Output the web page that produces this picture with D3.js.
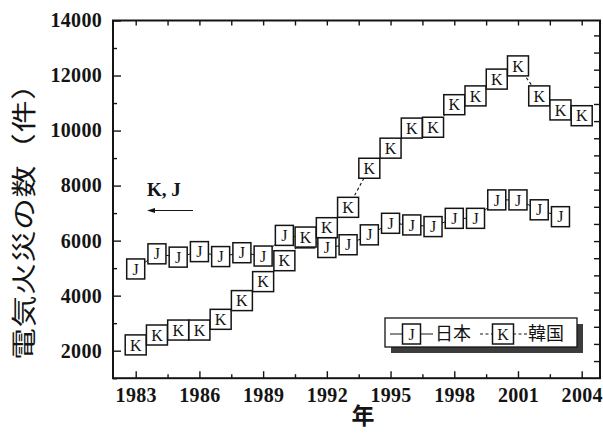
<!DOCTYPE html>
<html>
<head>
<meta charset="utf-8">
<script src="https://cdn.jsdelivr.net/npm/d3@7"></script>
<style>
  html, body { margin: 0; padding: 0; background: #fff; }
  svg { display: block; }
</style>
</head>
<body>
<script>
// Electrical fires per year, Japan (J) and Korea (K)
const years = [1983, 1984, 1985, 1986, 1987, 1988, 1989, 1990, 1991, 1992, 1993,
               1994, 1995, 1996, 1997, 1998, 1999, 2000, 2001, 2002, 2003, 2004];
const japanYears = years.slice(0, 21);
const japanFires = [4970, 5520, 5400, 5600, 5420, 5560, 5440, 6190, 6100, 5750, 5850,
                    6210, 6630, 6570, 6510, 6810, 6810, 7480, 7480, 7120, 6870];
const koreaFires = [2210, 2570, 2750, 2750, 3140, 3820, 4510, 5270, 6130, 6470, 7210,
                    8630, 9360, 10090, 10120, 10940, 11260, 11870, 12350, 11260, 10750, 10540];
const yTickValues = [2000, 4000, 6000, 8000, 10000, 12000, 14000];
const xTickValues = [1983, 1986, 1989, 1992, 1995, 1998, 2001, 2004];
const seriesNames = ["日本", "韓国"];
const seriesCodes = ["J", "K"];
const yTitle = "電気火災の数（件）";
const xTitle = "年";
const noteText = "K, J";

const W = 603, H = 443;
const frame = { left: 113, right: 600, top: 20.5, bottom: 378.2 };
const ink = "#141414";
const serif = "'Liberation Serif', 'DejaVu Serif', serif";
const cjk = "'Noto Sans CJK JP', 'Noto Sans CJK SC', sans-serif";

const svg = d3.select("body").append("svg").attr("width", W).attr("height", H);

const x = d3.scaleLinear().domain([1983, 2004]).range([135.7, 581.7]);
const y = d3.scaleLinear().domain([1000, 14000]).range([frame.bottom, frame.top]);
// unlabeled right-hand scale with its own evenly spaced ticks
const yRight = d3.scaleLinear().domain([0, 20.87]).range([frame.bottom, frame.top]);

const minorX = d3.range(1984.5, 2004, 3);
const minorY = d3.range(1000, 14000, 2000);

function styleAxis(g) {
  g.select(".domain").remove();
  g.selectAll(".tick line").attr("stroke", ink).attr("stroke-width", 1.4);
}

// left axis: ticks point into the plot, labels outside
svg.append("g").attr("transform", `translate(${frame.left},0)`)
  .call(d3.axisLeft(y).tickValues(yTickValues).tickSize(-8).tickPadding(11).tickFormat(d3.format("d")))
  .call(styleAxis)
  .call(g => g.selectAll("text").attr("font-family", serif).attr("font-weight", "bold")
    .attr("font-size", 20).attr("fill", ink).attr("letter-spacing", 0.3));
svg.append("g").attr("transform", `translate(${frame.left},0)`)
  .call(d3.axisLeft(y).tickValues(minorY).tickSize(-4).tickFormat(""))
  .call(styleAxis);

// bottom axis
svg.append("g").attr("transform", `translate(0,${frame.bottom})`)
  .call(d3.axisBottom(x).tickValues(xTickValues).tickSize(-7).tickPadding(10).tickFormat(d3.format("d")))
  .call(styleAxis)
  .call(g => g.selectAll("text").attr("font-family", serif).attr("font-weight", "bold")
    .attr("font-size", 20).attr("fill", ink).attr("letter-spacing", 0.3));
svg.append("g").attr("transform", `translate(0,${frame.bottom})`)
  .call(d3.axisBottom(x).tickValues(minorX).tickSize(-4).tickFormat(""))
  .call(styleAxis);

// top axis (ticks only)
svg.append("g").attr("transform", `translate(0,${frame.top})`)
  .call(d3.axisTop(x).tickValues(xTickValues.concat(minorX)).tickSize(-5).tickFormat(""))
  .call(styleAxis);

// right axis (ticks only)
svg.append("g").attr("transform", `translate(${frame.right},0)`)
  .call(d3.axisRight(yRight).tickValues(d3.range(1, 21)).tickSize(-6).tickFormat(""))
  .call(styleAxis);

// plot frame
svg.append("rect")
  .attr("x", frame.left).attr("y", frame.top)
  .attr("width", frame.right - frame.left).attr("height", frame.bottom - frame.top)
  .attr("fill", "none").attr("stroke", ink).attr("stroke-width", 2);

// series data
const japan = japanYears.map((yr, i) => ({ year: yr, value: japanFires[i] }));
const korea = years.map((yr, i) => ({ year: yr, value: koreaFires[i] }));

const line = d3.line().x(d => x(d.year)).y(d => y(d.value));

svg.append("path").datum(japan).attr("d", line)
  .attr("fill", "none").attr("stroke", ink).attr("stroke-width", 1);
svg.append("path").datum(korea).attr("d", line)
  .attr("fill", "none").attr("stroke", ink).attr("stroke-width", 1.1)
  .attr("stroke-dasharray", "3,2.5");

const boxW = { J: 18, K: 21 };
const boxH = 20;

function drawMarkers(data, code) {
  const g = svg.append("g").selectAll("g").data(data).join("g")
    .attr("transform", d => `translate(${x(d.year)},${y(d.value)})`);
  g.append("rect")
    .attr("x", -boxW[code] / 2).attr("y", -boxH / 2)
    .attr("width", boxW[code]).attr("height", boxH)
    .attr("fill", "#fff").attr("stroke", ink).attr("stroke-width", 1.5);
  g.append("text").text(code)
    .attr("text-anchor", "middle").attr("dy", "0.35em")
    .attr("font-family", serif).attr("font-size", 16).attr("fill", ink);
}
drawMarkers(japan, "J");
drawMarkers(korea, "K");

// note with leftward arrow
svg.append("text").attr("x", 147).attr("y", 196).text(noteText)
  .attr("font-family", serif).attr("font-weight", "bold").attr("font-size", 19).attr("fill", ink);
svg.append("line").attr("x1", 152).attr("x2", 193).attr("y1", 210.5).attr("y2", 210.5)
  .attr("stroke", ink).attr("stroke-width", 1);
svg.append("path").attr("d", "M147,210.5 L155,208 L155,213 Z").attr("fill", ink);

// legend with drop shadow
const legend = svg.append("g");
legend.append("rect").attr("x", 391).attr("y", 324).attr("width", 192).attr("height", 29)
  .attr("fill", "#3c3c3c");
legend.append("rect").attr("x", 385).attr("y", 318).attr("width", 192).attr("height", 29)
  .attr("fill", "#fff").attr("stroke", ink).attr("stroke-width", 1.3);

const legendItems = [
  { code: seriesCodes[0], name: seriesNames[0], x0: 390, cx: 411.5, x1: 433, tx: 435, dash: null },
  { code: seriesCodes[1], name: seriesNames[1], x0: 480, cx: 503, x1: 527, tx: 528, dash: "3,2.5" }
];
legendItems.forEach(it => {
  legend.append("line").attr("x1", it.x0).attr("x2", it.x1).attr("y1", 334).attr("y2", 334)
    .attr("stroke", ink).attr("stroke-width", 1).attr("stroke-dasharray", it.dash);
  legend.append("rect").attr("x", it.cx - boxW[it.code] / 2).attr("y", 324)
    .attr("width", boxW[it.code]).attr("height", boxH)
    .attr("fill", "#fff").attr("stroke", ink).attr("stroke-width", 1.5);
  legend.append("text").attr("x", it.cx).attr("y", 334).attr("dy", "0.35em")
    .attr("text-anchor", "middle").text(it.code)
    .attr("font-family", serif).attr("font-size", 16).attr("fill", ink);
  legend.append("text").attr("x", it.tx).attr("y", 334).attr("dy", "0.36em").text(it.name)
    .attr("font-family", cjk).attr("font-size", 18).attr("fill", ink);
});

// axis titles: the vertical title uses a narrowed CJK face
svg.append("text")
  .attr("transform", "translate(22,214) rotate(-90) scale(1,0.78)")
  .attr("text-anchor", "middle").attr("dominant-baseline", "central").text(yTitle)
  .attr("font-family", cjk).attr("font-size", 32).attr("fill", ink)
  .attr("textLength", 292).attr("lengthAdjust", "spacing");
svg.append("text").attr("x", 363).attr("y", 424).attr("text-anchor", "middle").text(xTitle)
  .attr("font-family", cjk).attr("font-weight", "bold").attr("font-size", 23).attr("fill", ink);
</script>
</body>
</html>
